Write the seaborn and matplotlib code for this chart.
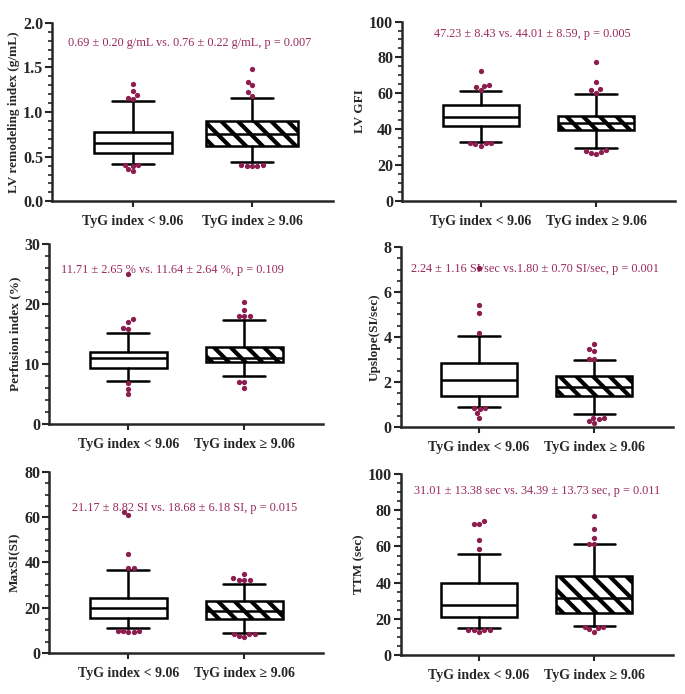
import numpy as np
import pandas as pd
import matplotlib
matplotlib.use("Agg")
import matplotlib.pyplot as plt
from matplotlib.ticker import MultipleLocator
import seaborn as sns

#%% data
groups = ["TyG index < 9.06", "TyG index \u2265 9.06"]

# box stats per group: q1, median, q3, lower whisker, upper whisker
lvri_box = [[0.54, 0.655, 0.78, 0.42, 1.12], [0.62, 0.75, 0.90, 0.44, 1.16]]
lvri_out = [[1.31, 1.24, 1.19, 1.16, 1.15, 0.41, 0.40, 0.41, 0.34, 0.36],
            [1.48, 1.34, 1.30, 1.22, 1.18, 0.40, 0.41, 0.40, 0.41, 0.39]]

gfi_box = [[42.1, 47.0, 53.6, 32.7, 61.2], [39.4, 43.4, 47.5, 29.4, 59.9]]
gfi_out = [[72.5, 64.4, 64.6, 63.4, 61.9, 32.0, 32.3, 32.3, 32.3, 31.0],
           [77.3, 66.6, 62.6, 61.8, 60.4, 26.2, 27.6, 28.2, 28.4, 26.6]]

perf_box = [[9.3, 11.0, 12.0, 7.1, 15.2], [10.3, 11.1, 12.9, 8.1, 17.4]]
perf_out = [[25.0, 17.5, 17.1, 16.0, 15.8, 6.8, 5.9, 5.0],
            [20.3, 19.0, 18.1, 18.1, 18.1, 7.0, 7.0, 6.0]]

up_box = [[1.36, 2.10, 2.84, 0.90, 4.02], [1.37, 1.76, 2.24, 0.57, 2.98]]
up_out = [[7.05, 5.40, 5.05, 4.17, 0.85, 0.85, 0.81, 0.60, 0.38],
          [3.69, 3.48, 3.38, 3.04, 3.04, 0.41, 0.33, 0.40, 0.18, 0.26]]

max_box = [[15.7, 19.8, 24.5, 11.0, 36.8], [15.0, 18.4, 23.0, 8.8, 30.6]]
max_out = [[60.9, 62.4, 43.8, 37.7, 37.7, 9.1, 9.9, 9.9, 9.9, 9.1],
           [35.0, 33.0, 32.4, 32.4, 32.2, 7.6, 8.4, 8.2, 8.2, 7.3]]

ttm_box = [[21.2, 27.6, 39.8, 15.1, 55.6], [23.3, 31.6, 43.8, 16.3, 61.1]]
ttm_out = [[72.5, 72.5, 74.2, 63.5, 58.5, 13.8, 13.9, 13.9, 13.8, 12.6],
           [76.9, 69.7, 64.9, 61.6, 61.6, 12.9, 15.7, 15.8, 14.3, 15.2]]

ylabels = ["LV remodeling index (g/mL)", "LV GFI", "Perfusion index (%)",
           "Upslope(SI/sec)", "MaxSI(SI)", "TTM (sec)"]
notes = ["0.69 \u00b1 0.20 g/mL vs. 0.76 \u00b1 0.22 g/mL, p = 0.007",
         "47.23 \u00b1 8.43 vs. 44.01 \u00b1 8.59, p = 0.005",
         "11.71 \u00b1 2.65 % vs. 11.64 \u00b1 2.64 %, p = 0.109",
         "2.24 \u00b1 1.16 SI/sec vs.1.80 \u00b1 0.70 SI/sec, p = 0.001",
         "21.17 \u00b1 8.82 SI vs. 18.68 \u00b1 6.18 SI, p = 0.015",
         "31.01 \u00b1 13.38 sec vs. 34.39 \u00b1 13.73 sec, p = 0.011"]
ylims = [(0, 2.0), (0, 100), (0, 30), (0, 8), (0, 80), (0, 100)]
majors = [0.5, 20, 10, 2, 20, 20]
minors = [0.1, 5, 2, 0.5, 5, 5]

#%% style
sns.set_theme(style="ticks")
plt.rcParams['font.family'] = ['Liberation Serif', 'DejaVu Serif']
plt.rcParams['hatch.linewidth'] = 3.0
plt.rcParams['axes.linewidth'] = 1.8
dot_col = "#8c1d4f"
txt_col = "#9a2a5c"

fig = plt.figure(figsize=(6.85, 6.94), dpi=100)
# axes rects (left, bottom, width, height) in figure fraction
rects = [(0.076, 0.710, 0.410, 0.257), (0.587, 0.710, 0.398, 0.259),
         (0.072, 0.389, 0.400, 0.259), (0.585, 0.385, 0.397, 0.259),
         (0.072, 0.059, 0.400, 0.261), (0.585, 0.056, 0.397, 0.261)]
boxes = [lvri_box, gfi_box, perf_box, up_box, max_box, ttm_box]
outs = [lvri_out, gfi_out, perf_out, up_out, max_out, ttm_out]
note_pos = [(0.49, 0.89), (0.476, 0.93), (0.449, 0.855), (0.493, 0.88), (0.493, 0.80), (0.5, 0.905)]
box_w = [[0.66, 0.78], [0.66, 0.66], [0.66, 0.66], [0.66, 0.66], [0.66, 0.66], [0.66, 0.66]]

for i in range(6):
    ax = fig.add_axes(rects[i])
    stats = []
    for b in boxes[i]:
        stats.append(dict(q1=b[0], med=b[1], q3=b[2], whislo=b[3], whishi=b[4], fliers=[]))
    bp = ax.bxp(stats, positions=[0, 1], widths=box_w[i], capwidths=0.36,
                showfliers=False, patch_artist=True, manage_ticks=False,
                boxprops=dict(facecolor="white", edgecolor="black", linewidth=1.8),
                medianprops=dict(color="black", linewidth=1.8),
                whiskerprops=dict(color="black", linewidth=1.8),
                capprops=dict(color="black", linewidth=1.8))
    bp['boxes'][1].set_hatch('\\\\')

    df = pd.DataFrame({"group": [groups[0]] * len(outs[i][0]) + [groups[1]] * len(outs[i][1]),
                       "value": outs[i][0] + outs[i][1]})
    sns.swarmplot(data=df, x="group", y="value", order=groups, color=dot_col,
                  size=3.8, linewidth=0, ax=ax, zorder=5)

    ax.set_xlim(-0.68, 1.68)
    ax.set_ylim(*ylims[i])
    ax.set_xticks([0, 1])
    ax.set_xticklabels(groups, fontsize=10, fontweight="bold")
    ax.set_xlabel("")
    ax.set_ylabel(ylabels[i], fontsize=9.5, fontweight="bold", labelpad=2)
    ax.yaxis.set_major_locator(MultipleLocator(majors[i]))
    ax.yaxis.set_minor_locator(MultipleLocator(minors[i]))
    if i == 0:
        ax.yaxis.set_major_formatter(matplotlib.ticker.FormatStrFormatter("%.1f"))
    for lab in ax.get_yticklabels():
        lab.set_fontweight("bold")
        lab.set_fontsize(11.5)
    ax.tick_params(axis="y", which="major", length=5, width=1.5, pad=1.5)
    ax.tick_params(axis="y", which="minor", length=3, width=1.2)
    ax.tick_params(axis="x", length=4, width=1.5, pad=6)
    sns.despine(ax=ax)
    ax.text(note_pos[i][0], note_pos[i][1], notes[i], transform=ax.transAxes,
            ha="center", va="center", fontsize=8.8, color=txt_col, zorder=1)

fig.savefig("out.png", dpi=100)
